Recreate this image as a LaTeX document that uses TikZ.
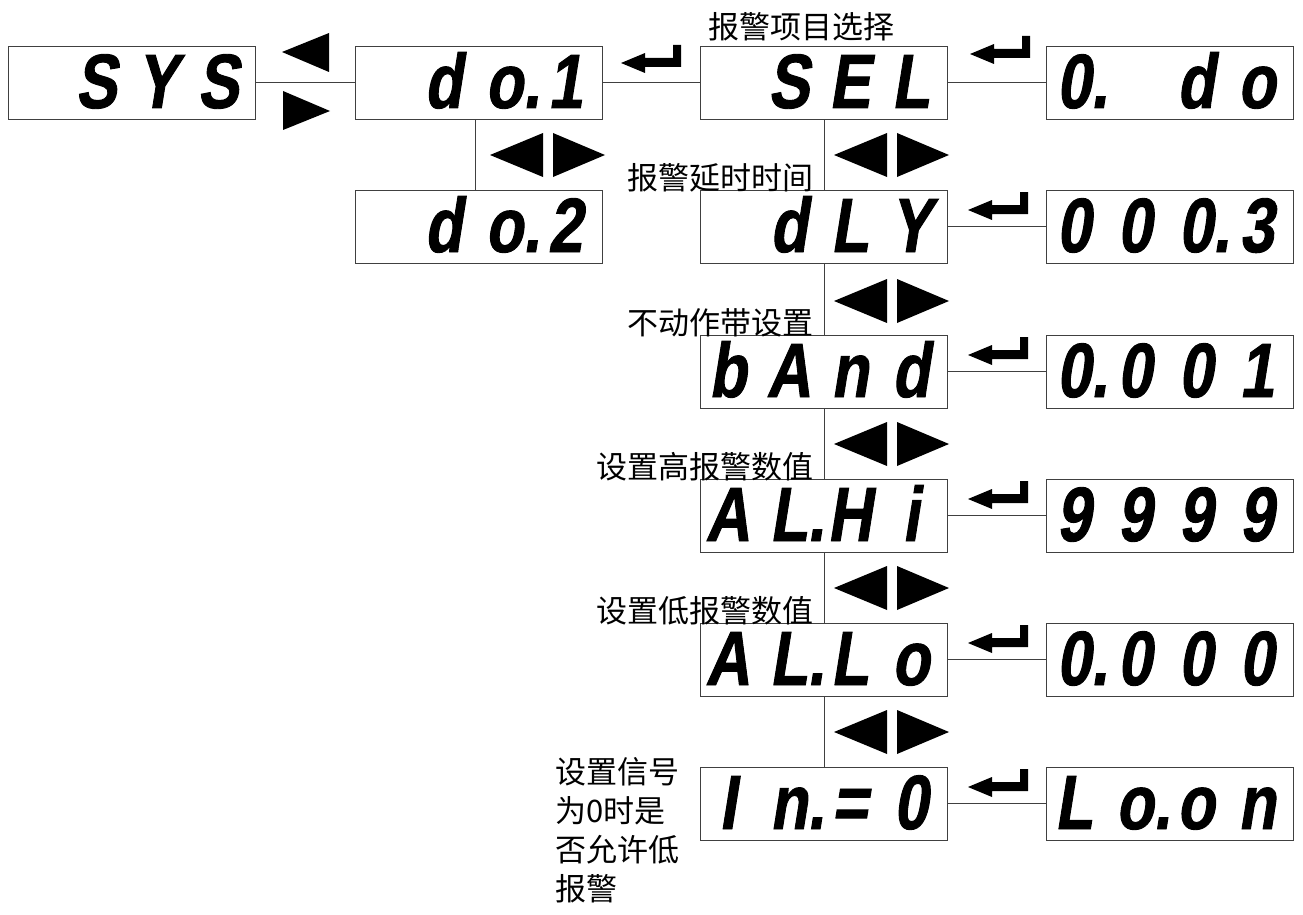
\documentclass[tikz,border=0pt]{standalone}
\usepackage{fontspec}
\newfontfamily\cjk{Noto Sans CJK SC}
\newfontfamily\segfont[FakeStretch=0.8,FakeSlant=0.16,FakeBold=1.2]{Liberation Sans}
\newcommand\dg[1]{\makebox[61pt][c]{#1}}
\newcommand\dgp[1]{\makebox[61pt][c]{#1\rlap{.}}}
\newcommand\segrow[1]{\hspace*{-5pt}#1\hspace*{5pt}}
\tikzset{
  disp/.style={draw=black!75, line width=0.9pt, minimum width=247pt, minimum height=73pt,
    inner sep=0pt, text height=51pt, text depth=0pt,
    font=\segfont\bfseries\fontsize{77}{77}\selectfont},
  link/.style={draw=black!75, line width=0.9pt},
  lab/.style={font=\cjk\fontsize{31}{31}\selectfont, inner sep=0pt},
  pics/lrpair/.style={code={
    \fill (0,0) -- (53,-22) -- (53,22) -- cycle;
    \fill (63,-22) -- (115,0) -- (63,22) -- cycle;}},
  pics/enter/.style={code={
    \fill (0,0) -- (24,-10) -- (24,-5) -- (52,-5) -- (52,-18) -- (60,-18) -- (60,4)
      -- (24,4) -- (24,10) -- cycle;}}
}
\begin{document}
\begin{tikzpicture}[x=1pt,y=-1pt]
\useasboundingbox (0,0) rectangle (1303,915);
% first row
\node[disp] (sys) at (131.5,82.5) {\segrow{\dg{}\dg{S}\dg{Y}\dg{S}}};
\node[disp] (do1) at (478.5,82.5) {\segrow{\dg{}\dg{d}\dgp{o}\dg{1}}};
\node[disp] (sel) at (824,82.5) {\segrow{\dg{}\dg{S}\dg{E}\dg{L}}};
\node[disp] (odo) at (1170,82.5) {\segrow{\dgp{0}\dg{}\dg{d}\dg{o}}};
\node[disp] (do2) at (478.5,226.5) {\segrow{\dg{}\dg{d}\dgp{o}\dg{2}}};
% column 2 and 3
\node[disp] (dly) at (824,226.5) {\segrow{\dg{}\dg{d}\dg{L}\dg{Y}}};
\node[disp] (vdly) at (1170,226.5) {\segrow{\dg{0}\dg{0}\dgp{0}\dg{3}}};
\node[disp] (band) at (824,371.5) {\segrow{\dg{b}\dg{A}\dg{n}\dg{d}}};
\node[disp] (vband) at (1170,371.5) {\segrow{\dgp{0}\dg{0}\dg{0}\dg{1}}};
\node[disp] (alhi) at (824,515.5) {\segrow{\dg{A}\dgp{L}\dg{H}\dg{i}}};
\node[disp] (valhi) at (1170,515.5) {\segrow{\dg{9}\dg{9}\dg{9}\dg{9}}};
\node[disp] (allo) at (824,659.5) {\segrow{\dg{A}\dgp{L}\dg{L}\dg{o}}};
\node[disp] (vallo) at (1170,659.5) {\segrow{\dgp{0}\dg{0}\dg{0}\dg{0}}};
\node[disp] (inz) at (824,803.5) {\segrow{\dg{I}\dgp{n}\dg{=}\dg{0}}};
\node[disp] (vinz) at (1170,803.5) {\segrow{\dg{L}\dgp{o}\dg{o}\dg{n}}};
% connectors
\draw[link] (sys) -- (do1);
\draw[link] (do1) -- (sel);
\draw[link] (sel) -- (odo);
\draw[link] ([xshift=-3.5pt]do1.south) -- ([xshift=-3.5pt]do2.north);
\draw[link] (sel) -- (dly);
\draw[link] (dly) -- (band);
\draw[link] (band) -- (alhi);
\draw[link] (alhi) -- (allo);
\draw[link] (allo) -- (inz);
\draw[link] (dly) -- (vdly);
\draw[link] (band) -- (vband);
\draw[link] (alhi) -- (valhi);
\draw[link] (allo) -- (vallo);
\draw[link] (inz) -- (vinz);
% arrows symbols
\fill (282,52) -- (329,33) -- (329,72) -- cycle;
\fill (283,91) -- (330,111) -- (283,130) -- cycle;
\pic at (621,63) {enter};
\pic at (970,54) {enter};
\pic at (968,210) {enter};
\pic at (968,355) {enter};
\pic at (968,499) {enter};
\pic at (968,643) {enter};
\pic at (968,787) {enter};
\pic at (490,155) {lrpair};
\pic at (834,155) {lrpair};
\pic at (834,301) {lrpair};
\pic at (834,444) {lrpair};
\pic at (834,588) {lrpair};
\pic at (834,732) {lrpair};
% labels
\node[lab, anchor=south] (l1) at (801,41) {报警项目选择};
\node[lab, anchor=south east] (l2) at (814,192) {报警延时时间};
\node[lab, anchor=south east] (l3) at (814,337) {不动作带设置};
\node[lab, anchor=south east] (l4) at (814,481) {设置高报警数值};
\node[lab, anchor=south east] (l5) at (814,625) {设置低报警数值};
\node[lab, anchor=north west, align=left, font=\cjk\fontsize{31}{39}\selectfont] (l6) at (555,757) {设置信号\\为0时是\\否允许低\\报警};
\end{tikzpicture}
\end{document}
